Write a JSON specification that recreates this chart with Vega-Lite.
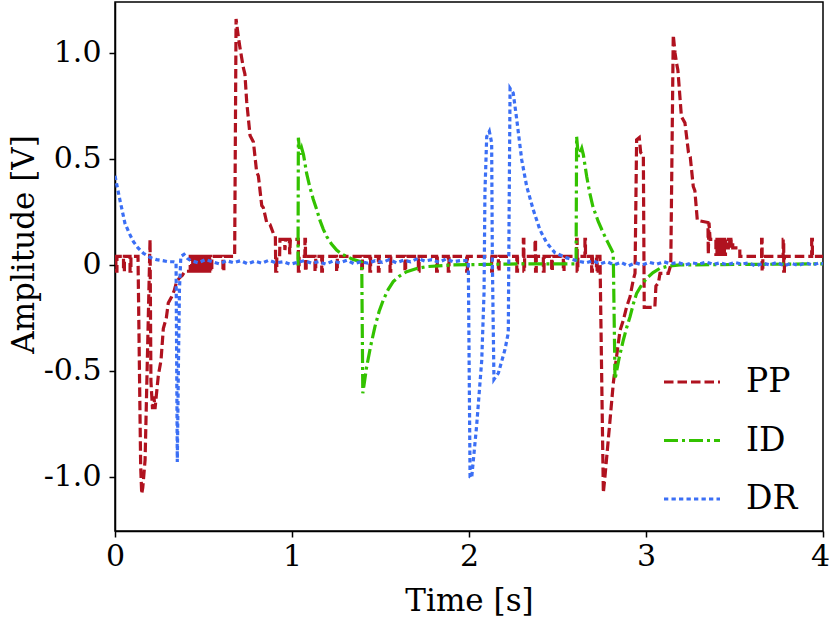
{
  "$schema": "https://vega.github.io/schema/vega-lite/v6.json",
  "width": 708,
  "height": 529,
  "autosize": {"type": "none"},
  "padding": {"left": 115, "top": 2, "right": 7, "bottom": 96},
  "background": "white",
  "config": {
    "font": "DejaVu Serif",
    "view": {"stroke": "black", "strokeWidth": 1.5},
    "axis": {
      "grid": false,
      "domainColor": "black",
      "domainWidth": 1.5,
      "tickColor": "black",
      "tickWidth": 1.5,
      "tickSize": 6,
      "labelFont": "DejaVu Serif",
      "titleFont": "DejaVu Serif",
      "labelFontSize": 30,
      "labelColor": "black",
      "titleFontSize": 31,
      "titleColor": "black",
      "titleFontWeight": "normal"
    },
    "legend": {"labelFont": "DejaVu Serif"}
  },
  "datasets": {
    "signals": [
      {"s": "PP", "t": 0.000, "v": 0.04}, {"s": "PP", "t": 0.005, "v": 0.04}, {"s": "PP", "t": 0.005, "v": -0.03}, {"s": "PP", "t": 0.011, "v": -0.03}, {"s": "PP", "t": 0.011, "v": 0.04},
      {"s": "PP", "t": 0.048, "v": 0.04}, {"s": "PP", "t": 0.048, "v": -0.03}, {"s": "PP", "t": 0.053, "v": -0.03}, {"s": "PP", "t": 0.053, "v": 0.04},
      {"s": "PP", "t": 0.085, "v": 0.04}, {"s": "PP", "t": 0.085, "v": -0.03}, {"s": "PP", "t": 0.090, "v": -0.03}, {"s": "PP", "t": 0.090, "v": 0.04},
      {"s": "PP", "t": 0.130, "v": 0.04}, {"s": "PP", "t": 0.145, "v": -0.95}, {"s": "PP", "t": 0.151, "v": -1.08}, {"s": "PP", "t": 0.157, "v": -1.05},
      {"s": "PP", "t": 0.170, "v": -0.92}, {"s": "PP", "t": 0.198, "v": 0.12}, {"s": "PP", "t": 0.203, "v": -0.55}, {"s": "PP", "t": 0.212, "v": -0.68},
      {"s": "PP", "t": 0.220, "v": -0.62}, {"s": "PP", "t": 0.226, "v": -0.68}, {"s": "PP", "t": 0.233, "v": -0.62}, {"s": "PP", "t": 0.245, "v": -0.52},
      {"s": "PP", "t": 0.260, "v": -0.45}, {"s": "PP", "t": 0.273, "v": -0.30}, {"s": "PP", "t": 0.290, "v": -0.25}, {"s": "PP", "t": 0.301, "v": -0.18},
      {"s": "PP", "t": 0.320, "v": -0.15}, {"s": "PP", "t": 0.335, "v": -0.12}, {"s": "PP", "t": 0.348, "v": -0.08}, {"s": "PP", "t": 0.365, "v": -0.06},
      {"s": "PP", "t": 0.380, "v": -0.05}, {"s": "PP", "t": 0.395, "v": -0.03}, {"s": "PP", "t": 0.425, "v": -0.03}, {"s": "PP", "t": 0.425, "v": 0.04},
      {"s": "PP", "t": 0.433, "v": 0.04}, {"s": "PP", "t": 0.433, "v": -0.03}, {"s": "PP", "t": 0.439, "v": -0.03}, {"s": "PP", "t": 0.439, "v": 0.04},
      {"s": "PP", "t": 0.445, "v": 0.04}, {"s": "PP", "t": 0.445, "v": -0.03}, {"s": "PP", "t": 0.451, "v": -0.03}, {"s": "PP", "t": 0.451, "v": 0.04},
      {"s": "PP", "t": 0.457, "v": 0.04}, {"s": "PP", "t": 0.457, "v": -0.03}, {"s": "PP", "t": 0.463, "v": -0.03}, {"s": "PP", "t": 0.463, "v": 0.04},
      {"s": "PP", "t": 0.469, "v": 0.04}, {"s": "PP", "t": 0.469, "v": -0.03}, {"s": "PP", "t": 0.475, "v": -0.03}, {"s": "PP", "t": 0.475, "v": 0.04},
      {"s": "PP", "t": 0.481, "v": 0.04}, {"s": "PP", "t": 0.481, "v": -0.03}, {"s": "PP", "t": 0.487, "v": -0.03}, {"s": "PP", "t": 0.487, "v": 0.04},
      {"s": "PP", "t": 0.493, "v": 0.04}, {"s": "PP", "t": 0.493, "v": -0.03}, {"s": "PP", "t": 0.499, "v": -0.03}, {"s": "PP", "t": 0.499, "v": 0.04},
      {"s": "PP", "t": 0.505, "v": 0.04}, {"s": "PP", "t": 0.505, "v": -0.03}, {"s": "PP", "t": 0.511, "v": -0.03}, {"s": "PP", "t": 0.511, "v": 0.04},
      {"s": "PP", "t": 0.517, "v": 0.04}, {"s": "PP", "t": 0.517, "v": -0.03}, {"s": "PP", "t": 0.523, "v": -0.03}, {"s": "PP", "t": 0.523, "v": 0.04},
      {"s": "PP", "t": 0.529, "v": 0.04}, {"s": "PP", "t": 0.529, "v": -0.03}, {"s": "PP", "t": 0.535, "v": -0.03}, {"s": "PP", "t": 0.535, "v": 0.04},
      {"s": "PP", "t": 0.541, "v": 0.04}, {"s": "PP", "t": 0.541, "v": -0.03}, {"s": "PP", "t": 0.547, "v": -0.03}, {"s": "PP", "t": 0.547, "v": 0.04},
      {"s": "PP", "t": 0.610, "v": 0.04}, {"s": "PP", "t": 0.610, "v": -0.03}, {"s": "PP", "t": 0.615, "v": -0.03}, {"s": "PP", "t": 0.615, "v": 0.04},
      {"s": "PP", "t": 0.676, "v": 0.04}, {"s": "PP", "t": 0.684, "v": 1.16}, {"s": "PP", "t": 0.697, "v": 1.075}, {"s": "PP", "t": 0.705, "v": 1.03},
      {"s": "PP", "t": 0.725, "v": 0.93}, {"s": "PP", "t": 0.734, "v": 0.90}, {"s": "PP", "t": 0.744, "v": 0.77}, {"s": "PP", "t": 0.763, "v": 0.61},
      {"s": "PP", "t": 0.782, "v": 0.58}, {"s": "PP", "t": 0.800, "v": 0.44}, {"s": "PP", "t": 0.810, "v": 0.42}, {"s": "PP", "t": 0.829, "v": 0.28},
      {"s": "PP", "t": 0.838, "v": 0.27}, {"s": "PP", "t": 0.857, "v": 0.20}, {"s": "PP", "t": 0.876, "v": 0.19}, {"s": "PP", "t": 0.894, "v": 0.15},
      {"s": "PP", "t": 0.906, "v": 0.14}, {"s": "PP", "t": 0.908, "v": -0.03}, {"s": "PP", "t": 0.914, "v": -0.03}, {"s": "PP", "t": 0.914, "v": 0.04},
      {"s": "PP", "t": 0.930, "v": 0.04}, {"s": "PP", "t": 0.932, "v": 0.12}, {"s": "PP", "t": 0.958, "v": 0.12}, {"s": "PP", "t": 0.960, "v": 0.07},
      {"s": "PP", "t": 0.964, "v": 0.12}, {"s": "PP", "t": 0.985, "v": 0.12}, {"s": "PP", "t": 0.987, "v": 0.05}, {"s": "PP", "t": 0.991, "v": 0.12},
      {"s": "PP", "t": 1.036, "v": 0.12}, {"s": "PP", "t": 1.036, "v": -0.03}, {"s": "PP", "t": 1.040, "v": -0.03}, {"s": "PP", "t": 1.040, "v": 0.04},
      {"s": "PP", "t": 1.073, "v": 0.04}, {"s": "PP", "t": 1.073, "v": 0.12}, {"s": "PP", "t": 1.076, "v": 0.12}, {"s": "PP", "t": 1.076, "v": -0.03}, {"s": "PP", "t": 1.080, "v": -0.03}, {"s": "PP", "t": 1.080, "v": 0.04},
      {"s": "PP", "t": 1.130, "v": 0.04}, {"s": "PP", "t": 1.130, "v": -0.03}, {"s": "PP", "t": 1.134, "v": -0.03}, {"s": "PP", "t": 1.134, "v": 0.04},
      {"s": "PP", "t": 1.168, "v": 0.04}, {"s": "PP", "t": 1.168, "v": -0.03}, {"s": "PP", "t": 1.172, "v": -0.03}, {"s": "PP", "t": 1.172, "v": 0.04},
      {"s": "PP", "t": 1.252, "v": 0.04}, {"s": "PP", "t": 1.252, "v": -0.03}, {"s": "PP", "t": 1.256, "v": -0.03}, {"s": "PP", "t": 1.256, "v": 0.04},
      {"s": "PP", "t": 1.394, "v": 0.04}, {"s": "PP", "t": 1.394, "v": -0.03}, {"s": "PP", "t": 1.398, "v": -0.03}, {"s": "PP", "t": 1.398, "v": 0.04},
      {"s": "PP", "t": 1.440, "v": 0.04}, {"s": "PP", "t": 1.440, "v": -0.03}, {"s": "PP", "t": 1.444, "v": -0.03}, {"s": "PP", "t": 1.444, "v": 0.04},
      {"s": "PP", "t": 1.488, "v": 0.04}, {"s": "PP", "t": 1.488, "v": -0.03}, {"s": "PP", "t": 1.492, "v": -0.03}, {"s": "PP", "t": 1.492, "v": 0.04},
      {"s": "PP", "t": 1.554, "v": 0.04}, {"s": "PP", "t": 1.554, "v": -0.03}, {"s": "PP", "t": 1.558, "v": -0.03}, {"s": "PP", "t": 1.558, "v": 0.04},
      {"s": "PP", "t": 1.638, "v": 0.04}, {"s": "PP", "t": 1.638, "v": -0.03}, {"s": "PP", "t": 1.642, "v": -0.03}, {"s": "PP", "t": 1.642, "v": 0.04},
      {"s": "PP", "t": 1.714, "v": 0.04}, {"s": "PP", "t": 1.714, "v": -0.03}, {"s": "PP", "t": 1.718, "v": -0.03}, {"s": "PP", "t": 1.718, "v": 0.04},
      {"s": "PP", "t": 1.817, "v": 0.04}, {"s": "PP", "t": 1.817, "v": -0.03}, {"s": "PP", "t": 1.821, "v": -0.03}, {"s": "PP", "t": 1.821, "v": 0.04},
      {"s": "PP", "t": 1.883, "v": 0.04}, {"s": "PP", "t": 1.883, "v": -0.03}, {"s": "PP", "t": 1.887, "v": -0.03}, {"s": "PP", "t": 1.887, "v": 0.04},
      {"s": "PP", "t": 1.987, "v": 0.04}, {"s": "PP", "t": 1.987, "v": -0.03}, {"s": "PP", "t": 1.991, "v": -0.03}, {"s": "PP", "t": 1.991, "v": 0.04},
      {"s": "PP", "t": 2.128, "v": 0.04}, {"s": "PP", "t": 2.128, "v": -0.03}, {"s": "PP", "t": 2.132, "v": -0.03}, {"s": "PP", "t": 2.132, "v": 0.04},
      {"s": "PP", "t": 2.166, "v": 0.04}, {"s": "PP", "t": 2.166, "v": -0.03}, {"s": "PP", "t": 2.170, "v": -0.03}, {"s": "PP", "t": 2.170, "v": 0.04},
      {"s": "PP", "t": 2.270, "v": 0.04}, {"s": "PP", "t": 2.270, "v": -0.03}, {"s": "PP", "t": 2.274, "v": -0.03}, {"s": "PP", "t": 2.274, "v": 0.04},
      {"s": "PP", "t": 2.307, "v": 0.04}, {"s": "PP", "t": 2.307, "v": 0.12}, {"s": "PP", "t": 2.310, "v": 0.12}, {"s": "PP", "t": 2.310, "v": -0.03}, {"s": "PP", "t": 2.314, "v": -0.03}, {"s": "PP", "t": 2.314, "v": 0.04},
      {"s": "PP", "t": 2.373, "v": 0.04}, {"s": "PP", "t": 2.373, "v": 0.12}, {"s": "PP", "t": 2.376, "v": 0.12}, {"s": "PP", "t": 2.376, "v": -0.03}, {"s": "PP", "t": 2.380, "v": -0.03}, {"s": "PP", "t": 2.380, "v": 0.04},
      {"s": "PP", "t": 2.420, "v": 0.04}, {"s": "PP", "t": 2.420, "v": -0.03}, {"s": "PP", "t": 2.424, "v": -0.03}, {"s": "PP", "t": 2.424, "v": 0.04},
      {"s": "PP", "t": 2.467, "v": 0.04}, {"s": "PP", "t": 2.467, "v": -0.03}, {"s": "PP", "t": 2.471, "v": -0.03}, {"s": "PP", "t": 2.471, "v": 0.04},
      {"s": "PP", "t": 2.533, "v": 0.04}, {"s": "PP", "t": 2.533, "v": -0.03}, {"s": "PP", "t": 2.537, "v": -0.03}, {"s": "PP", "t": 2.537, "v": 0.04},
      {"s": "PP", "t": 2.608, "v": 0.04}, {"s": "PP", "t": 2.608, "v": 0.12}, {"s": "PP", "t": 2.611, "v": 0.12}, {"s": "PP", "t": 2.611, "v": -0.03}, {"s": "PP", "t": 2.615, "v": -0.03}, {"s": "PP", "t": 2.615, "v": 0.04},
      {"s": "PP", "t": 2.655, "v": 0.04}, {"s": "PP", "t": 2.655, "v": 0.12}, {"s": "PP", "t": 2.658, "v": 0.12}, {"s": "PP", "t": 2.658, "v": 0.04},
      {"s": "PP", "t": 2.693, "v": 0.04}, {"s": "PP", "t": 2.693, "v": -0.03}, {"s": "PP", "t": 2.697, "v": -0.03}, {"s": "PP", "t": 2.697, "v": 0.04},
      {"s": "PP", "t": 2.720, "v": 0.04}, {"s": "PP", "t": 2.720, "v": -0.03}, {"s": "PP", "t": 2.724, "v": -0.03}, {"s": "PP", "t": 2.724, "v": 0.04},
      {"s": "PP", "t": 2.740, "v": 0.04}, {"s": "PP", "t": 2.759, "v": -1.075}, {"s": "PP", "t": 2.768, "v": -1.0}, {"s": "PP", "t": 2.797, "v": -0.73},
      {"s": "PP", "t": 2.815, "v": -0.56}, {"s": "PP", "t": 2.834, "v": -0.43}, {"s": "PP", "t": 2.853, "v": -0.31}, {"s": "PP", "t": 2.872, "v": -0.26},
      {"s": "PP", "t": 2.890, "v": -0.20}, {"s": "PP", "t": 2.910, "v": -0.15}, {"s": "PP", "t": 2.928, "v": -0.07}, {"s": "PP", "t": 2.938, "v": -0.04},
      {"s": "PP", "t": 2.947, "v": 0.59}, {"s": "PP", "t": 2.962, "v": 0.60}, {"s": "PP", "t": 2.970, "v": 0.53}, {"s": "PP", "t": 2.985, "v": 0.52},
      {"s": "PP", "t": 2.990, "v": -0.20}, {"s": "PP", "t": 3.050, "v": -0.20}, {"s": "PP", "t": 3.056, "v": -0.10}, {"s": "PP", "t": 3.070, "v": -0.085},
      {"s": "PP", "t": 3.079, "v": -0.04}, {"s": "PP", "t": 3.126, "v": -0.04}, {"s": "PP", "t": 3.140, "v": 0.0}, {"s": "PP", "t": 3.154, "v": 1.085},
      {"s": "PP", "t": 3.164, "v": 1.0}, {"s": "PP", "t": 3.173, "v": 0.95}, {"s": "PP", "t": 3.180, "v": 0.92}, {"s": "PP", "t": 3.200, "v": 0.70},
      {"s": "PP", "t": 3.220, "v": 0.67}, {"s": "PP", "t": 3.240, "v": 0.53}, {"s": "PP", "t": 3.250, "v": 0.51}, {"s": "PP", "t": 3.267, "v": 0.37},
      {"s": "PP", "t": 3.276, "v": 0.35}, {"s": "PP", "t": 3.290, "v": 0.21}, {"s": "PP", "t": 3.350, "v": 0.20}, {"s": "PP", "t": 3.352, "v": 0.05},
      {"s": "PP", "t": 3.356, "v": 0.20}, {"s": "PP", "t": 3.362, "v": 0.12}, {"s": "PP", "t": 3.395, "v": 0.12},
      {"s": "PP", "t": 3.395, "v": 0.05}, {"s": "PP", "t": 3.401, "v": 0.05}, {"s": "PP", "t": 3.401, "v": 0.12}, {"s": "PP", "t": 3.407, "v": 0.12},
      {"s": "PP", "t": 3.407, "v": 0.05}, {"s": "PP", "t": 3.413, "v": 0.05}, {"s": "PP", "t": 3.413, "v": 0.12}, {"s": "PP", "t": 3.419, "v": 0.12},
      {"s": "PP", "t": 3.419, "v": 0.05}, {"s": "PP", "t": 3.425, "v": 0.05}, {"s": "PP", "t": 3.425, "v": 0.12}, {"s": "PP", "t": 3.431, "v": 0.12},
      {"s": "PP", "t": 3.431, "v": 0.05}, {"s": "PP", "t": 3.437, "v": 0.05}, {"s": "PP", "t": 3.437, "v": 0.12}, {"s": "PP", "t": 3.443, "v": 0.12},
      {"s": "PP", "t": 3.443, "v": 0.05}, {"s": "PP", "t": 3.449, "v": 0.05}, {"s": "PP", "t": 3.449, "v": 0.12}, {"s": "PP", "t": 3.457, "v": 0.12},
      {"s": "PP", "t": 3.457, "v": 0.08}, {"s": "PP", "t": 3.465, "v": 0.08}, {"s": "PP", "t": 3.465, "v": 0.12}, {"s": "PP", "t": 3.473, "v": 0.12},
      {"s": "PP", "t": 3.473, "v": 0.08}, {"s": "PP", "t": 3.481, "v": 0.08}, {"s": "PP", "t": 3.481, "v": 0.12}, {"s": "PP", "t": 3.490, "v": 0.12},
      {"s": "PP", "t": 3.490, "v": 0.08}, {"s": "PP", "t": 3.530, "v": 0.08}, {"s": "PP", "t": 3.530, "v": 0.04},
      {"s": "PP", "t": 3.653, "v": 0.04}, {"s": "PP", "t": 3.653, "v": 0.12}, {"s": "PP", "t": 3.656, "v": 0.12}, {"s": "PP", "t": 3.656, "v": -0.03}, {"s": "PP", "t": 3.660, "v": -0.03}, {"s": "PP", "t": 3.660, "v": 0.04},
      {"s": "PP", "t": 3.775, "v": 0.04}, {"s": "PP", "t": 3.775, "v": 0.12}, {"s": "PP", "t": 3.778, "v": 0.12}, {"s": "PP", "t": 3.778, "v": -0.03}, {"s": "PP", "t": 3.782, "v": -0.03}, {"s": "PP", "t": 3.782, "v": 0.04},
      {"s": "PP", "t": 3.936, "v": 0.04}, {"s": "PP", "t": 3.936, "v": 0.12}, {"s": "PP", "t": 3.940, "v": 0.12}, {"s": "PP", "t": 3.940, "v": 0.04},
      {"s": "PP", "t": 4.000, "v": 0.04},

      {"s": "ID", "t": 1.025, "v": 0.005}, {"s": "ID", "t": 1.034, "v": 0.005}, {"s": "ID", "t": 1.036, "v": 0.60}, {"s": "ID", "t": 1.045, "v": 0.52},
      {"s": "ID", "t": 1.055, "v": 0.55}, {"s": "ID", "t": 1.065, "v": 0.52}, {"s": "ID", "t": 1.083, "v": 0.43}, {"s": "ID", "t": 1.100, "v": 0.37},
      {"s": "ID", "t": 1.120, "v": 0.31}, {"s": "ID", "t": 1.140, "v": 0.26}, {"s": "ID", "t": 1.158, "v": 0.21}, {"s": "ID", "t": 1.176, "v": 0.17},
      {"s": "ID", "t": 1.196, "v": 0.134}, {"s": "ID", "t": 1.222, "v": 0.10}, {"s": "ID", "t": 1.252, "v": 0.07}, {"s": "ID", "t": 1.280, "v": 0.052},
      {"s": "ID", "t": 1.309, "v": 0.04}, {"s": "ID", "t": 1.345, "v": 0.026}, {"s": "ID", "t": 1.384, "v": 0.016}, {"s": "ID", "t": 1.394, "v": 0.012},
      {"s": "ID", "t": 1.400, "v": -0.605}, {"s": "ID", "t": 1.422, "v": -0.48}, {"s": "ID", "t": 1.445, "v": -0.38}, {"s": "ID", "t": 1.469, "v": -0.29},
      {"s": "ID", "t": 1.492, "v": -0.22}, {"s": "ID", "t": 1.516, "v": -0.165}, {"s": "ID", "t": 1.544, "v": -0.115}, {"s": "ID", "t": 1.572, "v": -0.079},
      {"s": "ID", "t": 1.608, "v": -0.052}, {"s": "ID", "t": 1.648, "v": -0.032}, {"s": "ID", "t": 1.700, "v": -0.018}, {"s": "ID", "t": 1.761, "v": -0.008},
      {"s": "ID", "t": 1.911, "v": 0.0}, {"s": "ID", "t": 2.300, "v": 0.005}, {"s": "ID", "t": 2.605, "v": 0.005}, {"s": "ID", "t": 2.608, "v": 0.605},
      {"s": "ID", "t": 2.618, "v": 0.51}, {"s": "ID", "t": 2.637, "v": 0.55}, {"s": "ID", "t": 2.646, "v": 0.52}, {"s": "ID", "t": 2.665, "v": 0.417},
      {"s": "ID", "t": 2.682, "v": 0.34}, {"s": "ID", "t": 2.700, "v": 0.275}, {"s": "ID", "t": 2.730, "v": 0.205}, {"s": "ID", "t": 2.759, "v": 0.15},
      {"s": "ID", "t": 2.785, "v": 0.105}, {"s": "ID", "t": 2.806, "v": 0.07}, {"s": "ID", "t": 2.815, "v": 0.055}, {"s": "ID", "t": 2.825, "v": -0.54},
      {"s": "ID", "t": 2.848, "v": -0.44}, {"s": "ID", "t": 2.872, "v": -0.354}, {"s": "ID", "t": 2.891, "v": -0.295}, {"s": "ID", "t": 2.910, "v": -0.244},
      {"s": "ID", "t": 2.928, "v": -0.185}, {"s": "ID", "t": 2.947, "v": -0.134}, {"s": "ID", "t": 2.975, "v": -0.095}, {"s": "ID", "t": 3.004, "v": -0.063},
      {"s": "ID", "t": 3.040, "v": -0.036}, {"s": "ID", "t": 3.079, "v": -0.016}, {"s": "ID", "t": 3.130, "v": -0.005}, {"s": "ID", "t": 3.192, "v": 0.0},
      {"s": "ID", "t": 4.000, "v": 0.005},

      {"s": "DR", "t": 0.000, "v": 0.42}, {"s": "DR", "t": 0.028, "v": 0.305}, {"s": "DR", "t": 0.056, "v": 0.197}, {"s": "DR", "t": 0.080, "v": 0.15},
      {"s": "DR", "t": 0.104, "v": 0.11}, {"s": "DR", "t": 0.130, "v": 0.08}, {"s": "DR", "t": 0.160, "v": 0.055}, {"s": "DR", "t": 0.200, "v": 0.035},
      {"s": "DR", "t": 0.235, "v": 0.025}, {"s": "DR", "t": 0.270, "v": 0.02}, {"s": "DR", "t": 0.300, "v": 0.015}, {"s": "DR", "t": 0.330, "v": 0.015},
      {"s": "DR", "t": 0.345, "v": 0.012}, {"s": "DR", "t": 0.352, "v": -0.93}, {"s": "DR", "t": 0.358, "v": -0.5}, {"s": "DR", "t": 0.364, "v": -0.12},
      {"s": "DR", "t": 0.372, "v": 0.04}, {"s": "DR", "t": 0.390, "v": 0.05}, {"s": "DR", "t": 0.410, "v": 0.03}, {"s": "DR", "t": 0.430, "v": 0.02},
      {"s": "DR", "t": 0.47, "v": 0.01}, {"s": "DR", "t": 0.51, "v": 0.025}, {"s": "DR", "t": 0.55, "v": 0.015}, {"s": "DR", "t": 0.59, "v": 0.005},
      {"s": "DR", "t": 0.63, "v": 0.02}, {"s": "DR", "t": 0.67, "v": 0.01}, {"s": "DR", "t": 0.71, "v": 0.02}, {"s": "DR", "t": 0.75, "v": 0.005},
      {"s": "DR", "t": 0.79, "v": 0.018}, {"s": "DR", "t": 0.83, "v": 0.008}, {"s": "DR", "t": 0.87, "v": 0.022}, {"s": "DR", "t": 0.91, "v": 0.01},
      {"s": "DR", "t": 0.95, "v": 0.015}, {"s": "DR", "t": 0.99, "v": 0.003}, {"s": "DR", "t": 1.03, "v": 0.012}, {"s": "DR", "t": 1.07, "v": 0.02},
      {"s": "DR", "t": 1.11, "v": 0.008}, {"s": "DR", "t": 1.15, "v": 0.015}, {"s": "DR", "t": 1.19, "v": 0.004}, {"s": "DR", "t": 1.23, "v": 0.018},
      {"s": "DR", "t": 1.27, "v": 0.01}, {"s": "DR", "t": 1.31, "v": 0.022}, {"s": "DR", "t": 1.35, "v": 0.006}, {"s": "DR", "t": 1.39, "v": 0.015},
      {"s": "DR", "t": 1.43, "v": 0.008}, {"s": "DR", "t": 1.47, "v": 0.02}, {"s": "DR", "t": 1.51, "v": 0.012}, {"s": "DR", "t": 1.55, "v": 0.025},
      {"s": "DR", "t": 1.59, "v": 0.01}, {"s": "DR", "t": 1.63, "v": 0.022}, {"s": "DR", "t": 1.67, "v": 0.015}, {"s": "DR", "t": 1.71, "v": 0.03},
      {"s": "DR", "t": 1.75, "v": 0.018}, {"s": "DR", "t": 1.79, "v": 0.025}, {"s": "DR", "t": 1.83, "v": 0.012}, {"s": "DR", "t": 1.87, "v": 0.028},
      {"s": "DR", "t": 1.91, "v": 0.015}, {"s": "DR", "t": 1.95, "v": 0.02}, {"s": "DR", "t": 1.996, "v": 0.02}, {"s": "DR", "t": 2.006, "v": -1.0},
      {"s": "DR", "t": 2.015, "v": -1.005}, {"s": "DR", "t": 2.043, "v": -0.76}, {"s": "DR", "t": 2.072, "v": -0.45}, {"s": "DR", "t": 2.085, "v": -0.13},
      {"s": "DR", "t": 2.090, "v": 0.34}, {"s": "DR", "t": 2.100, "v": 0.605}, {"s": "DR", "t": 2.115, "v": 0.63}, {"s": "DR", "t": 2.128, "v": 0.575},
      {"s": "DR", "t": 2.132, "v": 0.02}, {"s": "DR", "t": 2.141, "v": -0.54}, {"s": "DR", "t": 2.166, "v": -0.51}, {"s": "DR", "t": 2.203, "v": -0.40},
      {"s": "DR", "t": 2.222, "v": -0.32}, {"s": "DR", "t": 2.226, "v": 0.18}, {"s": "DR", "t": 2.232, "v": 0.833}, {"s": "DR", "t": 2.250, "v": 0.81},
      {"s": "DR", "t": 2.270, "v": 0.684}, {"s": "DR", "t": 2.298, "v": 0.495}, {"s": "DR", "t": 2.326, "v": 0.37}, {"s": "DR", "t": 2.363, "v": 0.26},
      {"s": "DR", "t": 2.401, "v": 0.165}, {"s": "DR", "t": 2.439, "v": 0.104}, {"s": "DR", "t": 2.486, "v": 0.057}, {"s": "DR", "t": 2.552, "v": 0.033},
      {"s": "DR", "t": 2.627, "v": 0.016}, {"s": "DR", "t": 2.66, "v": 0.01}, {"s": "DR", "t": 2.70, "v": 0.02}, {"s": "DR", "t": 2.74, "v": 0.005},
      {"s": "DR", "t": 2.78, "v": 0.015}, {"s": "DR", "t": 2.82, "v": 0.0}, {"s": "DR", "t": 2.86, "v": 0.012}, {"s": "DR", "t": 2.90, "v": -0.005},
      {"s": "DR", "t": 2.94, "v": 0.01}, {"s": "DR", "t": 2.98, "v": 0.0}, {"s": "DR", "t": 3.02, "v": 0.012}, {"s": "DR", "t": 3.06, "v": 0.003},
      {"s": "DR", "t": 3.10, "v": 0.015}, {"s": "DR", "t": 3.14, "v": 0.005}, {"s": "DR", "t": 3.18, "v": 0.012}, {"s": "DR", "t": 3.22, "v": 0.0},
      {"s": "DR", "t": 3.26, "v": 0.01}, {"s": "DR", "t": 3.30, "v": 0.004}, {"s": "DR", "t": 3.34, "v": 0.014}, {"s": "DR", "t": 3.38, "v": 0.002},
      {"s": "DR", "t": 3.42, "v": 0.01}, {"s": "DR", "t": 3.46, "v": 0.0}, {"s": "DR", "t": 3.50, "v": 0.012}, {"s": "DR", "t": 3.54, "v": 0.004},
      {"s": "DR", "t": 3.58, "v": 0.01}, {"s": "DR", "t": 3.62, "v": -0.005}, {"s": "DR", "t": 3.66, "v": 0.008}, {"s": "DR", "t": 3.70, "v": 0.0},
      {"s": "DR", "t": 3.74, "v": 0.012}, {"s": "DR", "t": 3.78, "v": -0.004}, {"s": "DR", "t": 3.82, "v": 0.008}, {"s": "DR", "t": 3.86, "v": -0.003},
      {"s": "DR", "t": 3.90, "v": 0.01}, {"s": "DR", "t": 3.94, "v": 0.0}, {"s": "DR", "t": 3.98, "v": 0.01}, {"s": "DR", "t": 4.00, "v": 0.005}
    ]
  },
  "data": {"name": "signals"},
  "encoding": {
    "x": {
      "field": "t",
      "type": "quantitative",
      "title": "Time [s]",
      "scale": {"domain": [0, 4], "nice": false, "zero": false},
      "axis": {
        "values": [0, 1, 2, 3, 4],
        "format": "d",
        "labelPadding": 4,
        "titlePadding": 15,
        "labelFlush": false,
        "labelOffset": {"condition": {"test": "datum.value == 4", "value": -3}, "value": 0}
      }
    },
    "y": {
      "field": "v",
      "type": "quantitative",
      "title": "Amplitude [V]",
      "scale": {"domain": [-1.255, 1.24], "nice": false, "zero": false},
      "axis": {
        "values": [-1, -0.5, 0, 0.5, 1],
        "labelExpr": "datum.value == 0 ? '0' : (datum.value < 0 ? '-' : '') + format(abs(datum.value), '.1f')",
        "labelPadding": 8,
        "titlePadding": 3,
        "titleY": 242
      }
    },
    "color": {
      "field": "s",
      "type": "nominal",
      "scale": {"domain": ["PP", "ID", "DR"], "range": ["#b0121f", "#33c200", "#3b6ff5"]},
      "legend": {
        "title": null,
        "orient": "none",
        "legendX": 547,
        "legendY": 350,
        "padding": 0,
        "symbolType": "stroke",
        "symbolSize": 3136,
        "symbolStrokeWidth": 3.2,
        "labelFontSize": 33,
        "labelColor": "black",
        "labelOffset": 24,
        "rowPadding": 11.5
      }
    },
    "strokeDash": {
      "field": "s",
      "type": "nominal",
      "scale": {"domain": ["PP", "ID", "DR"], "range": [[9.5, 4], [14, 4, 3, 4], [4.3, 3.2]]},
      "legend": null
    },
    "order": {"value": null}
  },
  "layer": [
    {"transform": [{"filter": "datum.s == 'PP'"}], "mark": {"type": "line", "strokeWidth": 3.2, "clip": true}},
    {"transform": [{"filter": "datum.s == 'ID'"}], "mark": {"type": "line", "strokeWidth": 3.2, "clip": true}},
    {"transform": [{"filter": "datum.s == 'DR'"}], "mark": {"type": "line", "strokeWidth": 3.2, "clip": true}}
  ]
}
